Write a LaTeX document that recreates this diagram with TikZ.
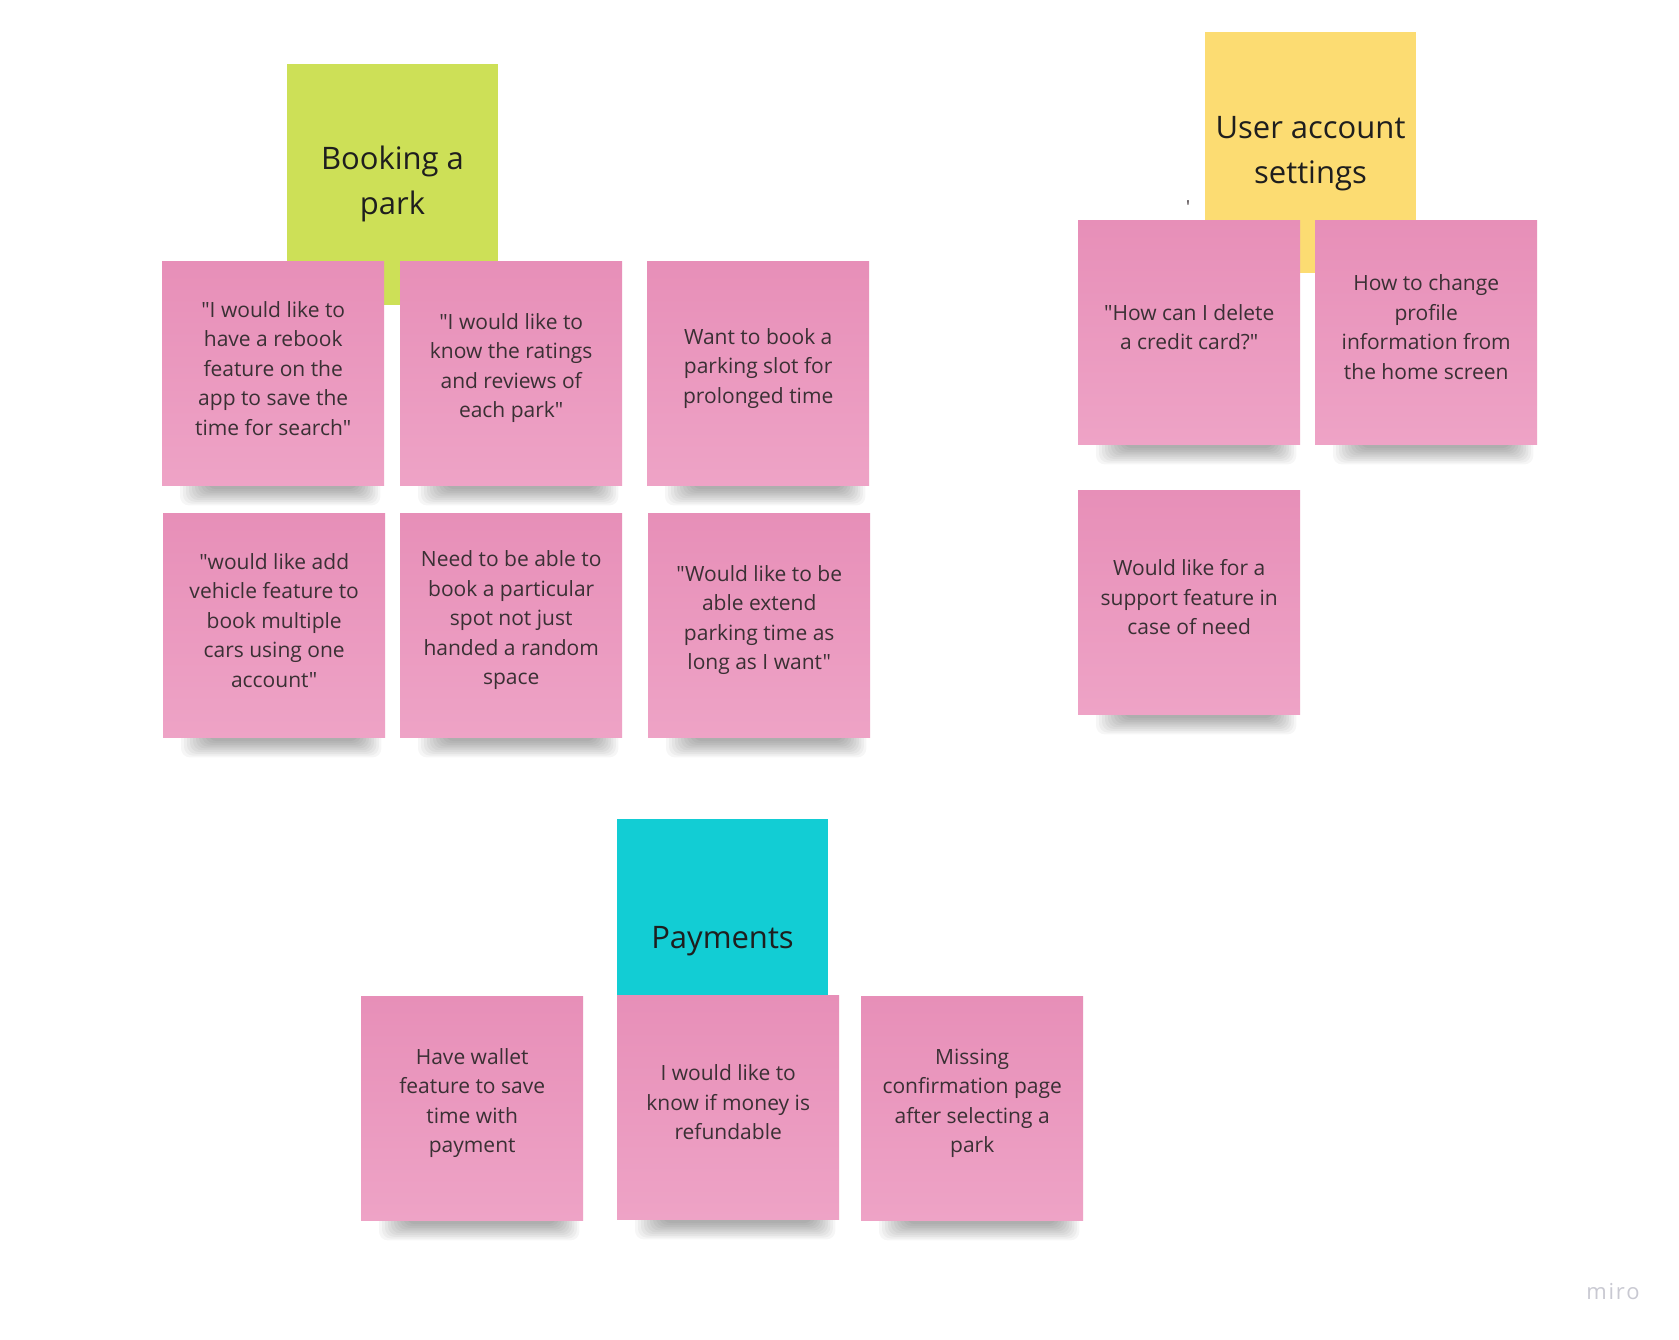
\documentclass[tikz,border=0pt]{standalone}
\usepackage{fontspec}
\setmainfont{Open Sans}[Ligatures=TeXOff]
\usetikzlibrary{backgrounds}
\pgfdeclarelayer{shadowlayer}
\pgfsetlayers{background,shadowlayer,main}
\definecolor{pinktop}{HTML}{E78FB8}
\definecolor{pinkbot}{HTML}{EEA3C6}
\definecolor{limecol}{HTML}{CDE057}
\definecolor{yellowcol}{HTML}{FCDC72}
\definecolor{cyancol}{HTML}{12CDD4}
\definecolor{notetext}{HTML}{3A3034}
\definecolor{headtext}{HTML}{1E1E1E}
\definecolor{logocol}{HTML}{C9C9D2}
\tikzset{
  pinknote/.style={rectangle, anchor=north west, inner sep=0pt, draw=none,
    top color=pinktop, bottom color=pinkbot, minimum width=222pt, minimum height=224pt},
  headnote/.style={rectangle, anchor=north west, inner sep=0pt, draw=none,
    minimum width=211pt, minimum height=241pt},
  notelabel/.style={align=center, text=notetext, inner sep=0pt,
    font=\fontsize{21}{29.5}\selectfont},
  headlabel/.style={align=center, text=headtext, inner sep=0pt,
    font=\fontsize{31}{45}\selectfont},
}
\newcommand{\noteshadow}[1]{%
  \begin{pgfonlayer}{shadowlayer}
  \foreach \k in {0,...,9} {
    \fill[black, opacity=0.035, rounded corners=9pt]
      ([xshift={18pt+3pt*\k}, yshift=10pt]#1.south west) rectangle
      ([xshift={-4pt-2.5pt*\k}, yshift={-20pt+1.8pt*\k}]#1.south east);
  }
  \end{pgfonlayer}}
\begin{document}
\begin{tikzpicture}[x=1pt, y=-1pt]
\begin{pgfonlayer}{background}
\fill[white] (0,0) rectangle (1679,1339);
\end{pgfonlayer}
\useasboundingbox (0,0) rectangle (1679,1339);

% category headers
\node[headnote, fill=limecol] (hbook) at (287,64) {};
\node[headlabel] (hbookt) at (392.5,184) {Booking a\\park};
\node[headnote, fill=yellowcol] (huser) at (1205,32) {};
\node[headlabel] (husert) at (1310.5,154) {User account\\settings};
\node[headnote, fill=cyancol] (hpay) at (617,819) {};
\node[headlabel] (hpayt) at (722.5,941) {Payments};

% Booking a park
\node[pinknote] (na) at (162,261) {};
\node[pinknote] (nb) at (400,261) {};
\node[pinknote] (nc) at (647,261) {};
\node[pinknote] (nd) at (163,513) {};
\node[pinknote] (ne) at (400,513) {};
\node[pinknote] (nf) at (648,513) {};
% User account settings
\node[pinknote] (ng) at (1078,220) {};
\node[pinknote] (nh) at (1315,220) {};
\node[pinknote] (ni) at (1078,490) {};
% Payments
\node[pinknote] (nj) at (361,996) {};
\node[pinknote] (nk) at (617,995) {};
\node[pinknote] (nl) at (861,996) {};

\foreach \n in {na,nb,nc,nd,ne,nf,ng,nh,ni,nj,nk,nl} {\noteshadow{\n}}

\node[notelabel] (ta) at ([yshift=5pt]na.center) {"I would like to\\have a rebook\\feature on the\\app to save the\\time for search"};
\node[notelabel] (tb) at ([yshift=5pt]nb.center) {"I would like to\\know the ratings\\and reviews of\\each park"};
\node[notelabel] (tc) at ([yshift=5pt]nc.center) {Want to book a\\parking slot for\\prolonged time};
\node[notelabel] (td) at ([yshift=5pt]nd.center) {"would like add\\vehicle feature to\\book multiple\\cars using one\\account"};
\node[notelabel] (te) at ([yshift=5pt]ne.center) {Need to be able to\\book a particular\\spot not just\\handed a random\\space};
\node[notelabel] (tf) at ([yshift=5pt]nf.center) {"Would like to be\\able extend\\parking time as\\long as I want"};
\node[notelabel] (tg) at ([yshift=5pt]ng.center) {"How can I delete\\a credit card?"};
\node[notelabel] (th) at ([yshift=5pt]nh.center) {How to change\\profile\\information from\\the home screen};
\node[notelabel] (ti) at ([yshift=5pt]ni.center) {Would like for a\\support feature in\\case of need};
\node[notelabel] (tj) at ([yshift=5pt]nj.center) {Have wallet\\feature to save\\time with\\payment};
\node[notelabel] (tk) at ([yshift=5pt]nk.center) {I would like to\\know if money is\\refundable};
\node[notelabel] (tl) at ([yshift=5pt]nl.center) {Missing\\confirmation page\\after selecting a\\park};

% stray mark
\node[text=notetext, inner sep=0pt, font=\fontsize{18}{18}\selectfont] (tick) at (1188,207) {'};
% logo
\node[text=logocol, inner sep=0pt, font=\fontsize{22}{22}\selectfont\addfontfeatures{LetterSpace=8}] (logo) at (1613,1292) {miro};
\end{tikzpicture}
\end{document}
